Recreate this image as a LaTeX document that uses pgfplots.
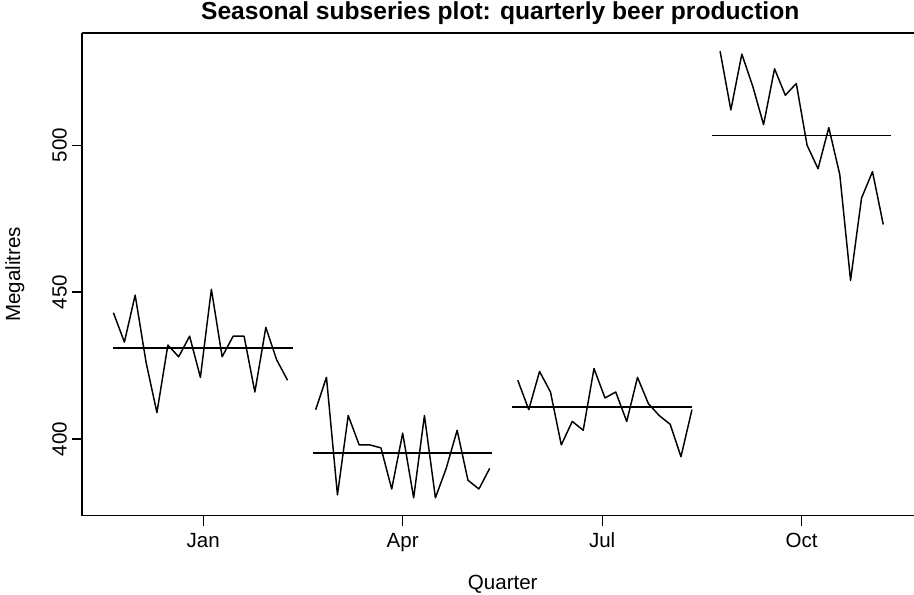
\documentclass[border=0pt]{standalone}
\usepackage{pgfplots}
\pgfplotsset{compat=1.18}
\usepackage{fontspec}
\setmainfont{Liberation Sans}
\begin{document}
\begin{tikzpicture}[x=0.75pt,y=0.75pt]
% page = 914 x 595 px; axis box lower-left at (82.3, 79.3) px
\useasboundingbox (-82.3,-79.3) rectangle (831.7,515.7);
\begin{axis}[
    scale only axis,
    width=630.2pt, height=361.8pt,
    xmin=0.394, xmax=4.606,
    ymin=373.92, ymax=538.08,
    separate axis lines,
    axis x line=box, axis y line=left,
    x axis line style={-, line width=1.2pt},
    y axis line style={-, line width=1.2pt},
    xtick={1,2,3,4},
    xticklabels={Jan,Apr,Jul,Oct},
    ytick={400,450,500},
    xtick pos=bottom, ytick pos=left,
    tick align=outside,
    major tick length=7.5pt,
    every tick/.style={black, line width=1pt},
    font=\fontsize{15.4}{18}\selectfont,
    /pgf/number format/assume math mode=true,
    xticklabel style={anchor=base, yshift=-16pt},
    yticklabel style={rotate=90, anchor=base},
    yticklabel shift=4.2pt,
    title={Seasonal subseries plot: quarterly beer production},
    title style={font=\fontsize{18.45}{22}\selectfont\bfseries,
        at={(axis description cs:0.4974,1)}, anchor=base, yshift=4.7pt},
    xlabel={Quarter},
    xlabel style={at={(axis description cs:0.5004,0)}, anchor=base, yshift=-55pt},
    ylabel={Megalitres},
    ylabel style={at={(axis description cs:-0.0741,0.5)}, anchor=base},
    ser/.style={black, line width=1.1pt, line join=round, mark=none},
]
% Jan (Q1), 1992-2008
\addplot[ser] coordinates {
 (0.550,443)(0.605,433)(0.659,449)(0.714,426)(0.768,409)(0.823,432)
 (0.877,428)(0.932,435)(0.986,421)(1.041,451)(1.095,428)(1.150,435)
 (1.205,435)(1.259,416)(1.314,438)(1.368,427)(1.423,420)
};
% Apr (Q2)
\addplot[ser] coordinates {
 (1.564,410)(1.618,421)(1.673,381)(1.727,408)(1.782,398)(1.836,398)
 (1.891,397)(1.945,383)(2.000,402)(2.055,380)(2.109,408)(2.164,380)
 (2.218,390)(2.273,403)(2.327,386)(2.382,383)(2.436,390)
};
% Jul (Q3)
\addplot[ser] coordinates {
 (2.577,420)(2.632,410)(2.686,423)(2.741,416)(2.795,398)(2.850,406)
 (2.905,403)(2.959,424)(3.014,414)(3.068,416)(3.123,406)(3.177,421)
 (3.232,412)(3.286,408)(3.341,405)(3.395,394)(3.450,410)
};
% Oct (Q4), 1992-2007
\addplot[ser] coordinates {
 (3.591,532)(3.645,512)(3.700,531)(3.755,520)(3.809,507)(3.864,526)
 (3.918,517)(3.973,521)(4.027,500)(4.082,492)(4.136,506)(4.191,490)
 (4.245,454)(4.300,482)(4.355,491)(4.409,473)
};
% quarter means
\addplot[ser] coordinates {(0.55,430.94)(1.45,430.94)};
\addplot[ser] coordinates {(1.55,395.18)(2.45,395.18)};
\addplot[ser] coordinates {(2.55,410.94)(3.45,410.94)};
\addplot[ser] coordinates {(3.55,503.375)(4.45,503.375)};
\end{axis}
\end{tikzpicture}
\end{document}
